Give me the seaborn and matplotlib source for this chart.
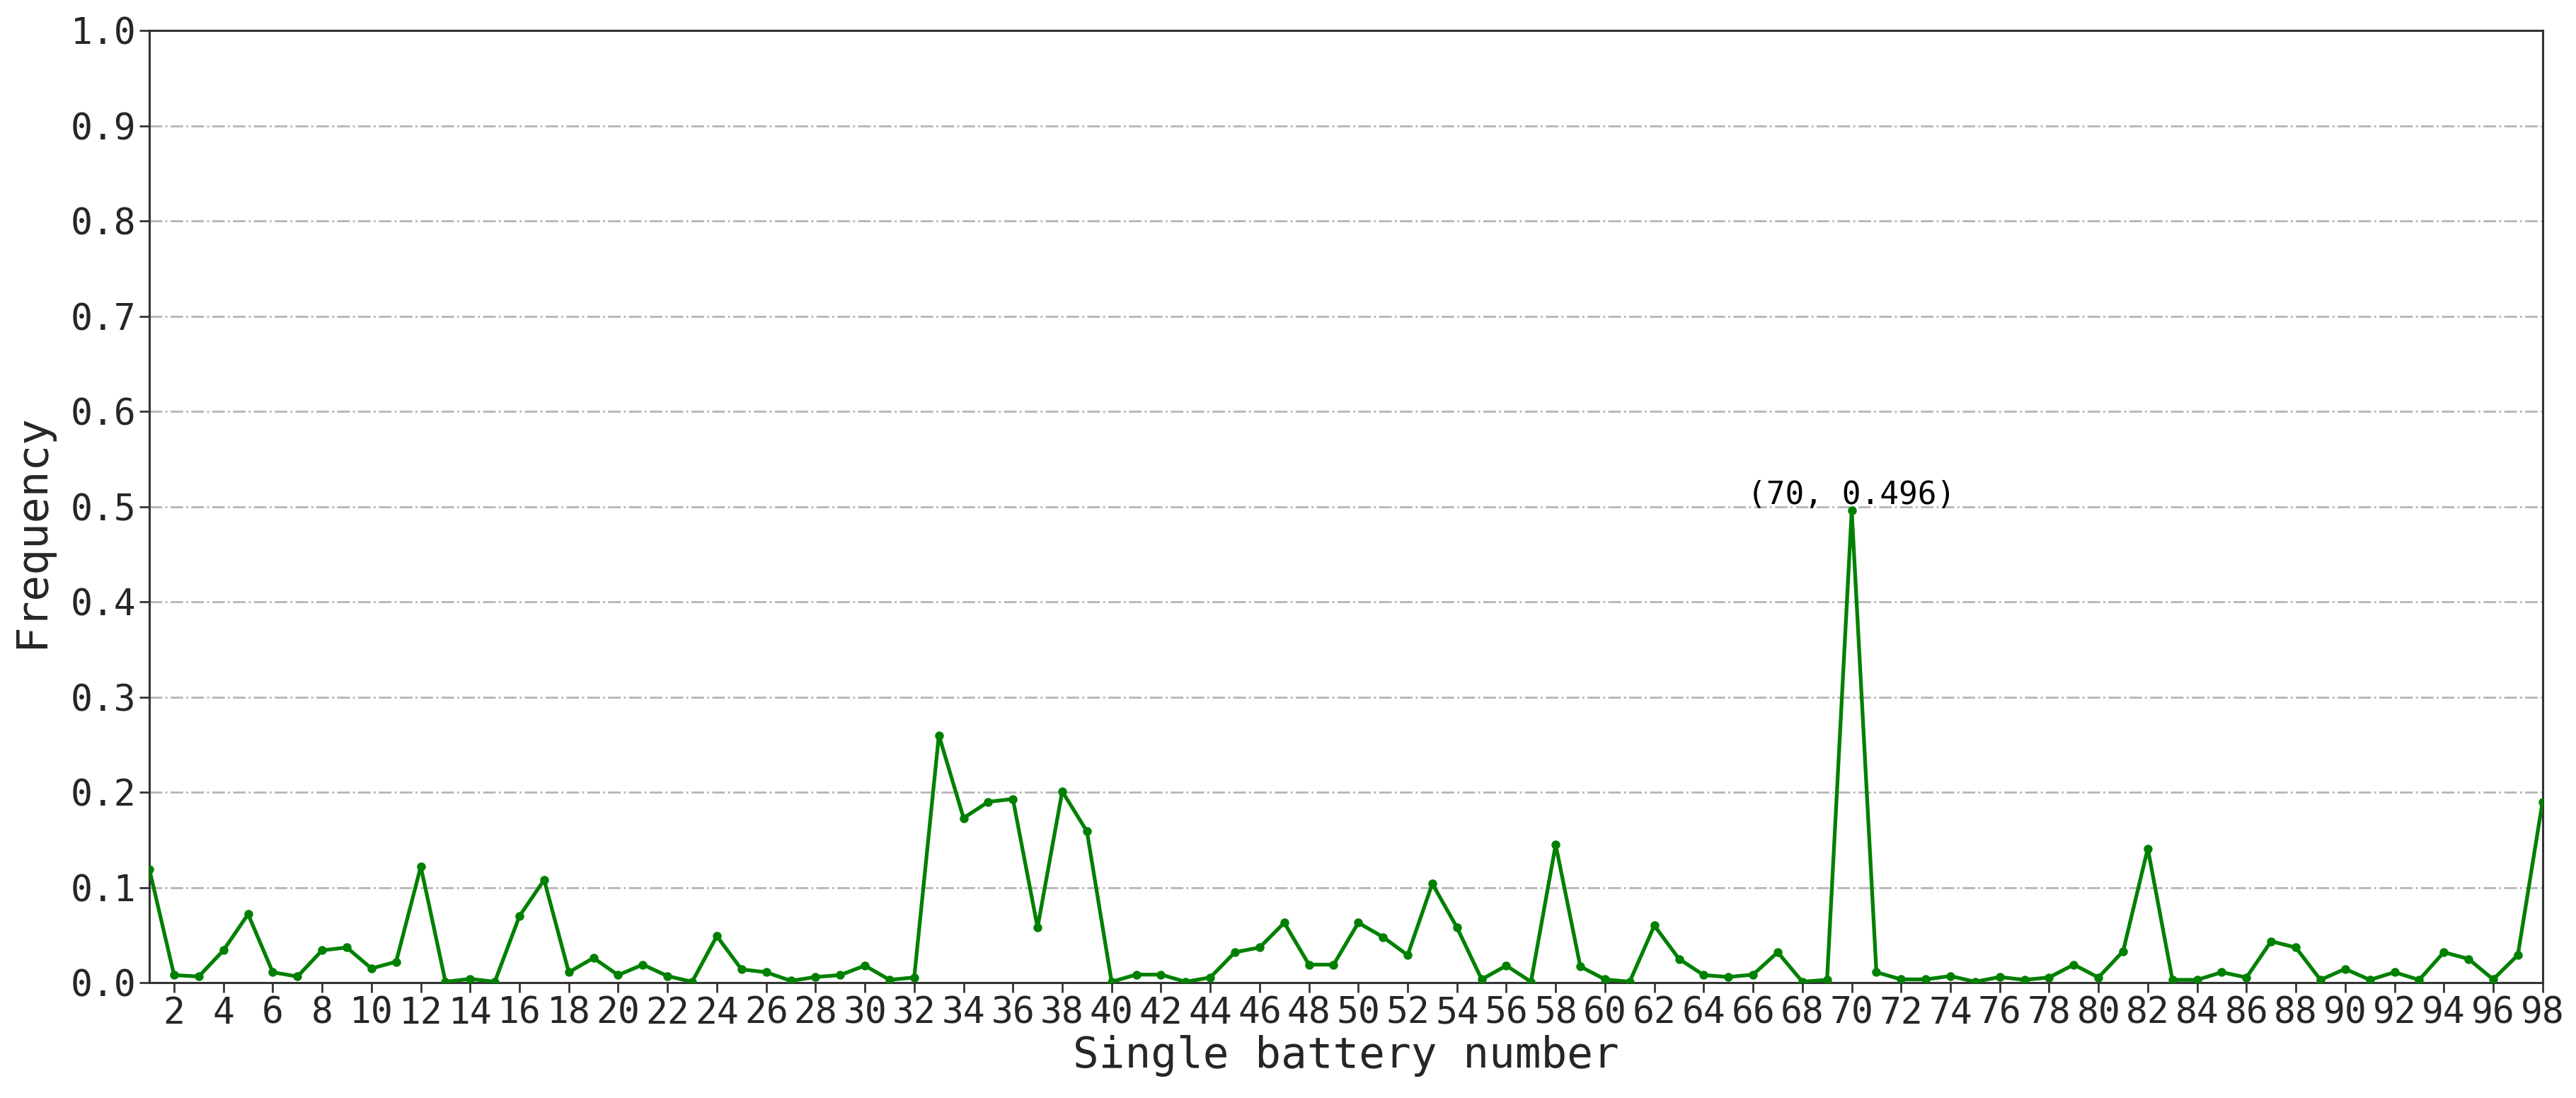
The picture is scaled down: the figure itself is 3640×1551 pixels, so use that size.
import numpy as np
import matplotlib
matplotlib.use('Agg')
import matplotlib.pyplot as plt
import seaborn as sns

# ============================================================================
# DATOS
# ============================================================================

battery_ids = list(range(1, 99))

frequency = [
    0.119, 0.008, 0.0065, 0.034, 0.072, 0.011, 0.0065, 0.034, 0.037, 0.015,
    0.022, 0.122, 0.001, 0.004, 0.001, 0.070, 0.108, 0.011, 0.026, 0.008,
    0.019, 0.007, 0.001, 0.049, 0.014, 0.011, 0.002, 0.006, 0.008, 0.018,
    0.003, 0.0055, 0.260, 0.173, 0.190, 0.193, 0.058, 0.201, 0.159, 0.001,
    0.0085, 0.0085, 0.001, 0.0055, 0.032, 0.037, 0.063, 0.019, 0.019, 0.063,
    0.048, 0.029, 0.104, 0.058, 0.0035, 0.018, 0.001, 0.145, 0.017, 0.0035,
    0.001, 0.060, 0.025, 0.008, 0.006, 0.0085, 0.032, 0.001, 0.003, 0.496,
    0.011, 0.0035, 0.0035, 0.007, 0.001, 0.006, 0.003, 0.0055, 0.019, 0.0055,
    0.033, 0.141, 0.003, 0.003, 0.011, 0.0055, 0.0435, 0.037, 0.003, 0.0145,
    0.003, 0.011, 0.003, 0.032, 0.025, 0.0035, 0.029, 0.190,
]

x_ticks = list(range(2, 99, 2))
y_ticks = [round(v * 0.1, 1) for v in range(0, 11)]

peak_id = 70
peak_value = 0.496

# ============================================================================
# ESTILO
# ============================================================================

sns.set_style('ticks')
plt.rcParams['font.family'] = ['DejaVu Sans Mono', 'DejaVu Sans']

fig = plt.figure(figsize=(36.4, 15.51), dpi=100)
ax = fig.add_axes([0.058, 0.105, 0.929, 0.867])

# ============================================================================
# PLOT
# ============================================================================

sns.lineplot(x=battery_ids, y=frequency, marker='o', color='green',
             linewidth=3.8, markersize=9, markeredgewidth=0, ax=ax, zorder=3)

ax.text(peak_id, peak_value, f"({peak_id}, {peak_value})", ha='center',
        va='bottom', fontsize=32, color='black')

ax.set_xlim(1, 98)
ax.set_ylim(0, 1.0)
ax.set_xticks(x_ticks)
ax.set_yticks(y_ticks)
ax.set_yticklabels([f"{v:.1f}" for v in y_ticks])
ax.tick_params(axis='both', labelsize=37, length=10, width=2, color='#333333')

ax.yaxis.grid(True, linestyle='-.', color='#b5b5b5', linewidth=2)
ax.xaxis.grid(False)

for side in ['top', 'right', 'bottom', 'left']:
    ax.spines[side].set_visible(True)
    ax.spines[side].set_color('#333333')
    ax.spines[side].set_linewidth(2.2)

ax.set_xlabel('Single battery number', fontsize=44, labelpad=4)
ax.set_ylabel('Frequency', fontsize=44, labelpad=14)
ax.yaxis.set_label_coords(-0.0405, 0.475)

fig.savefig('out.png', dpi=100)
plt.close(fig)
print("Guardado: out.png")
